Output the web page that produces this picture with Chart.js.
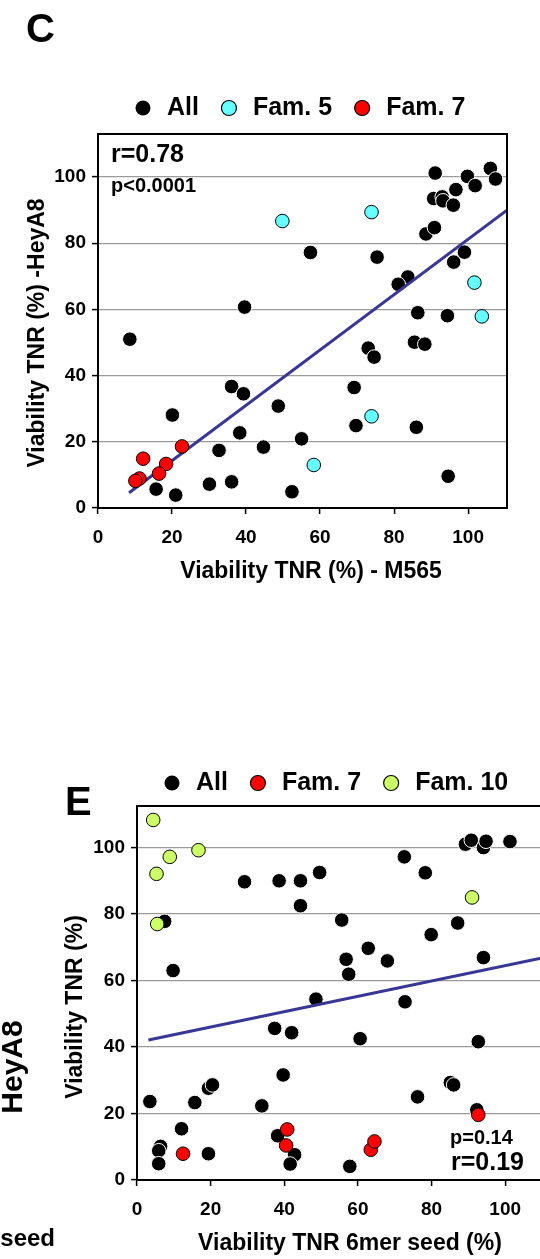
<!DOCTYPE html>
<html lang="en">
<head>
<meta charset="UTF-8">
<title>Viability TNR scatter</title>
<script src="https://cdn.jsdelivr.net/npm/chart.js"></script>
<style>
    body {
        margin: 0;
        width: 540px;
        height: 1259px;
        overflow: hidden;
        background: #ffffff;
        position: relative;
    }
    canvas {
        position: absolute;
        left: 0;
    }
    #chartC { top: 0; }
    #chartE { top: 640px; }
</style>
</head>
<body>
<canvas id="chartC" width="540" height="600"></canvas>
<canvas id="chartE" width="560" height="619"></canvas>

<script>
    // ---- Panel C: M565 vs HeyA8 ----
    const cAllX = [91.1, 90.7, 93.0, 93.2, 96.0, 96.7, 99.8, 101.9, 106.0, 107.4, 88.6, 90.9, 57.4, 75.4, 99.0,
                   96.1, 83.7, 81.1, 86.4, 94.4, 85.5, 88.3, 73.0, 74.6, 39.6, 8.6, 36.1, 39.3, 69.2, 48.7,
                   20.1, 38.3, 69.7, 86.0, 55.0, 44.7, 32.7, 30.1, 36.1, 15.7, 21.0, 52.4, 94.6];
    const cAllY = [101.2, 93.5, 94.0, 92.8, 91.5, 96.2, 100.2, 97.4, 102.6, 99.4, 82.8, 84.7, 77.2, 75.8, 77.3,
                   74.3, 69.8, 67.6, 59.0, 58.1, 50.1, 49.5, 48.3, 45.6, 60.7, 51.0, 36.7, 34.5, 36.4, 30.8,
                   28.1, 22.7, 24.9, 24.4, 20.9, 18.4, 17.4, 7.2, 7.9, 5.7, 3.9, 4.9, 9.6];
    const cFam5X = [49.8, 73.9, 101.7, 103.7, 73.9, 58.3];
    const cFam5Y = [86.7, 89.4, 68.1, 57.9, 27.7, 13.0];
    const cFam7X = [12.2, 22.7, 18.4, 16.5, 11.2, 10.1];
    const cFam7Y = [14.9, 18.6, 13.3, 10.4, 8.9, 8.2];
    const cFitX = [8.4, 110.5];
    const cFitY = [4.6, 90.0];

    // ---- Panel E: 6mer seed vs HeyA8 ----
    const eAllX = [7.5, 9.8, 29.2, 38.6, 44.4, 49.6, 44.4, 55.6, 56.8, 57.5, 62.8, 68.0, 72.6, 78.3, 79.9, 87.1,
                   94.1, 89.2, 90.8, 94.1, 94.8, 101.3, 48.6, 72.8, 37.4, 42.0, 60.6, 92.7, 39.7, 3.5, 15.7,
                   19.4, 20.5, 33.9, 76.2, 85.1, 86.0, 92.3, 12.1, 6.4, 5.9, 5.9, 19.4, 38.2, 42.8, 41.6, 57.8];
    const eAllY = [77.8, 63.0, 89.7, 90.0, 90.0, 92.5, 82.5, 78.2, 66.4, 61.9, 69.7, 65.9, 97.2, 92.4, 73.8, 77.3,
                   66.9, 101.0, 102.2, 100.0, 101.9, 101.8, 54.4, 53.6, 45.6, 44.3, 42.5, 41.6, 31.6, 23.6, 23.3,
                   27.6, 28.6, 22.3, 25.0, 29.3, 28.6, 21.1, 15.4, 10.1, 8.8, 4.9, 7.9, 13.3, 7.6, 4.8, 4.1];
    const eFam7X = [12.5, 40.8, 40.5, 63.5, 64.5, 92.7];
    const eFam7Y = [7.9, 15.2, 10.4, 9.1, 11.6, 19.6];
    const eFam10X = [4.4, 8.9, 16.7, 5.3, 5.5, 91.0];
    const eFam10Y = [108.3, 97.2, 99.2, 92.1, 77.0, 85.0];
    const eFitX = [3.1, 110];
    const eFitY = [42.1, 66.8];

    const tickValues = [0, 20, 40, 60, 80, 100];

    const FONT = '"Liberation Sans", Arial, Helvetica, sans-serif';

    function pts(xs, ys) {
        return xs.map((x, i) => ({ x: x, y: ys[i] }));
    }

    function dotSet(label, xs, ys, color, order) {
        const black = color === '#000000';
        return {
            label: label,
            data: pts(xs, ys),
            backgroundColor: color,
            borderColor: black ? '#ffffff' : '#000000',
            borderWidth: 1,
            pointRadius: black ? 7.3 : 6.8,
            order: order
        };
    }

    function fitSet(xs, ys) {
        return {
            label: '',
            data: pts(xs, ys),
            showLine: true,
            borderColor: '#373795',
            borderWidth: 3,
            pointRadius: 0,
            order: 1
        };
    }

    // one axis, sized by hand so the plot box lands where the figure has it
    function axis(max, isX, size) {
        return {
            type: 'linear',
            min: 0,
            max: max,
            afterBuildTicks: s => { s.ticks = tickValues.map(v => ({ value: v })); },
            afterFit: s => { if (isX) s.height = size; else s.width = size; },
            ticks: {
                padding: isX ? 12 : 6,
                color: '#000',
                font: { family: FONT, size: 19, weight: 'bold' }
            },
            grid: {
                drawOnChartArea: !isX,
                color: c => (c.tick && c.tick.value === 0) ? 'rgba(0,0,0,0)' : '#9a9a9a',
                lineWidth: 1.2,
                tickLength: 6,
                tickColor: '#000',
                tickWidth: 1.5
            },
            border: { display: true, color: '#000', width: 2 },
            title: { display: false }
        };
    }

    // frame, legend and free text drawn on top of the plot
    const decor = {
        id: 'decor',
        afterDraw(chart, args, opts) {
            const ctx = chart.ctx;
            const a = chart.chartArea;
            ctx.save();

            ctx.strokeStyle = '#000';
            ctx.lineWidth = 2;
            ctx.beginPath();
            ctx.moveTo(a.left - 1, a.top);
            ctx.lineTo(a.right, a.top);
            ctx.lineTo(a.right, a.bottom + 1);
            ctx.stroke();

            // legend
            let lx = opts.legend.x;
            const ly = opts.legend.y;
            ctx.font = 'bold 25px ' + FONT;
            ctx.textAlign = 'left';
            ctx.textBaseline = 'middle';
            chart.data.datasets.filter(d => d.label).forEach(d => {
                ctx.beginPath();
                ctx.arc(lx, ly, 7.5, 0, Math.PI * 2);
                ctx.fillStyle = d.backgroundColor;
                ctx.fill();
                if (d.borderColor === '#000000') {
                    ctx.lineWidth = 1.2;
                    ctx.strokeStyle = '#000';
                    ctx.stroke();
                }
                ctx.fillStyle = '#000';
                ctx.fillText(d.label, lx + 24, ly);
                lx += 24 + ctx.measureText(d.label).width + 30;
            });

            // texts
            opts.texts.forEach(t => {
                ctx.save();
                ctx.font = 'bold ' + t.size + 'px ' + FONT;
                ctx.fillStyle = '#000';
                ctx.textAlign = t.align || 'left';
                ctx.textBaseline = t.base || 'middle';
                ctx.translate(t.x, t.y);
                if (t.rotate) ctx.rotate(-Math.PI / 2);
                ctx.fillText(t.text, 0, 0);
                ctx.restore();
            });

            ctx.restore();
        }
    };

    function makeChart(id, datasets, xMax, yMax, yWidth, padding, decorOpts) {
        return new Chart(document.getElementById(id), {
            type: 'scatter',
            data: { datasets: datasets },
            options: {
                responsive: false,
                animation: false,
                events: [],
                devicePixelRatio: 1,
                layout: { padding: padding },
                scales: {
                    x: axis(xMax, true, 60),
                    y: axis(yMax, false, yWidth)
                },
                plugins: {
                    legend: { display: false },
                    tooltip: { enabled: false },
                    decor: decorOpts
                }
            },
            plugins: [decor]
        });
    }

    makeChart('chartC', [
        dotSet('All', cAllX, cAllY, '#000000', 2),
        dotSet('Fam. 5', cFam5X, cFam5Y, '#66ffff', 0),
        dotSet('Fam. 7', cFam7X, cFam7Y, '#ff0000', 0),
        fitSet(cFitX, cFitY)
    ], 110.5, 113, 98, { left: 0, right: 33, top: 134, bottom: 32 }, {
        legend: { x: 143, y: 108 },
        texts: [
            { text: 'C', x: 26, y: 42, size: 40, base: 'alphabetic' },
            { text: 'r=0.78', x: 111, y: 155, size: 25 },
            { text: 'p<0.0001', x: 111, y: 186, size: 20 },
            { text: 'Viability TNR (%) - M565', x: 311, y: 572, size: 23, align: 'center' },
            { text: 'Viability TNR (%) -HeyA8', x: 38, y: 333, size: 23, align: 'center', rotate: true }
        ]
    });

    makeChart('chartE', [
        dotSet('All', eAllX, eAllY, '#000000', 2),
        dotSet('Fam. 7', eFam7X, eFam7Y, '#ff0000', 0),
        dotSet('Fam. 10', eFam10X, eFam10Y, '#ccff66', 0),
        fitSet(eFitX, eFitY)
    ], 110, 112.5, 137, { left: 0, right: 18, top: 166, bottom: 19 }, {
        legend: { x: 172, y: 143 },
        texts: [
            { text: 'E', x: 65, y: 175, size: 40, base: 'alphabetic' },
            { text: 'p=0.14', x: 450, y: 498, size: 20 },
            { text: 'r=0.19', x: 451, y: 523, size: 25 },
            { text: 'Viability TNR 6mer seed (%)', x: 350, y: 604, size: 23, align: 'center' },
            { text: 'Viability TNR (%)', x: 76, y: 367, size: 23, align: 'center', rotate: true },
            { text: 'HeyA8', x: 14, y: 427, size: 30, align: 'center', rotate: true },
            { text: 'seed', x: 55, y: 606, size: 24, align: 'right', base: 'alphabetic' }
        ]
    });
</script>
</body>
</html>
